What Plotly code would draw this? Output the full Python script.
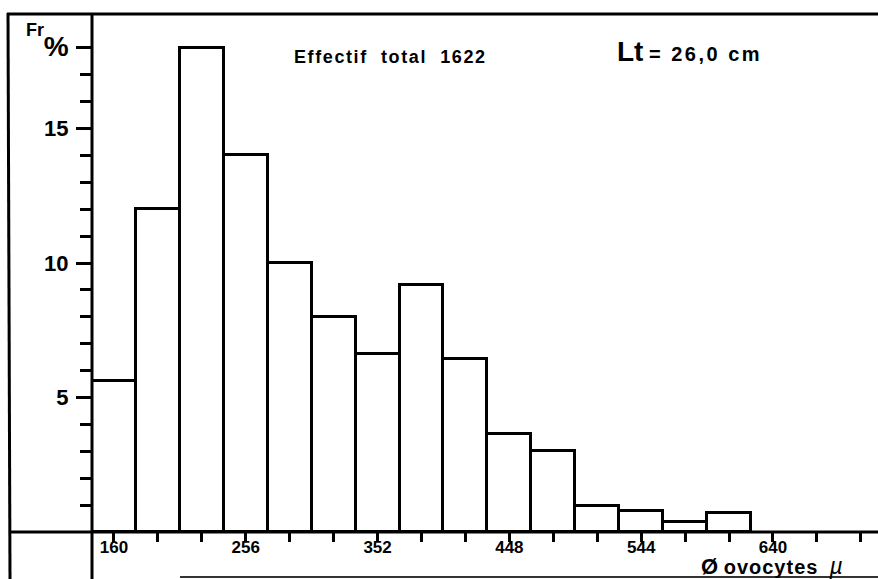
import plotly.graph_objects as go

# ---- data ----
bin_centers = [160, 192, 224, 256, 288, 320, 352, 384, 416, 448, 480, 512, 544, 576, 608]
freq_pct = [5.6, 12.0, 18.0, 14.0, 10.0, 8.0, 6.6, 9.2, 6.45, 3.65, 3.0, 0.95, 0.78, 0.38, 0.7]
bin_width = 32

x_tick_vals = [160, 256, 352, 448, 544, 640]
x_tick_text = ["160", "256", "352", "448", "544", "640"]
x_minor_vals = [192, 224, 288, 320, 384, 416, 480, 512, 576, 608, 672, 704]

y_tick_vals = [5, 10, 15, 18]
y_tick_text = ["5", "10", "15", "<span style='font-size:28px'>%</span>"]
y_minor_vals = [1, 2, 3, 4, 6, 7, 8, 9, 11, 12, 13, 14, 16, 17]

W, H = 878, 579
L, R, T, B = 92, 0, 14, 47
PW, PH = W - L - R, H - T - B


def px(x):
    return (x - L) / PW


def py(y):
    return (H - B - y) / PH


FONT = "Liberation Sans"

fig = go.Figure()
fig.add_trace(go.Bar(
    x=bin_centers, y=freq_pct, width=[bin_width] * len(bin_centers),
    marker=dict(color="white", line=dict(color="black", width=3)),
    hoverinfo="x+y", showlegend=False,
))

shapes = []
def seg(x0, y0, x1, y1, w=3, c="black"):
    shapes.append(dict(type="line", xref="paper", yref="paper",
                       x0=px(x0), y0=py(y0), x1=px(x1), y1=py(y1),
                       line=dict(color=c, width=w), layer="above"))

seg(7, 14, 878, 14, 3)          # top border
seg(8, 13, 10, 579, 3)          # left border
seg(92, 13, 92, 579, 3)         # y axis line (extended)
seg(10, 532, 878, 532, 3)       # x axis line (extended)
seg(180, 577, 878, 577, 2, "#333")  # bottom border

annotations = [
    dict(text="<b>Fr</b>", x=px(24), y=py(30), xanchor="left", yanchor="middle",
         font=dict(size=18, family=FONT, color="black")),
    dict(text="<b><span style='letter-spacing:1.6px'>Effectif  total  1622</span></b>",
         x=px(292), y=py(57), xanchor="left", yanchor="middle",
         font=dict(size=18, family=FONT, color="black")),
    dict(text="<b><span style='font-size:28px'>Lt</span> <span style='letter-spacing:2.5px'>= 26,0 cm</span></b>",
         x=px(615), y=py(52), xanchor="left", yanchor="middle",
         font=dict(size=20, family=FONT, color="black")),
    dict(text="<b><span style='font-size:22px'>Ø</span> <span style='letter-spacing:1px'>ovocytes</span></b>  <i><span style='font-size:23px'>µ</span></i>",
         x=px(699), y=py(566), xanchor="left", yanchor="middle",
         font=dict(size=20, family=FONT, color="black")),
]
for a in annotations:
    a.update(xref="paper", yref="paper", showarrow=False)

fig.update_layout(
    width=W, height=H,
    margin=dict(l=L, r=R, t=T, b=B),
    paper_bgcolor="white", plot_bgcolor="white",
    bargap=0,
    shapes=shapes, annotations=annotations,
    xaxis=dict(range=[144, 716.5], showgrid=False, zeroline=False, showline=False,
               tickmode="array", tickvals=x_tick_vals, ticktext=x_tick_text,
               ticks="outside", ticklen=9, tickwidth=2.5, tickcolor="black",
               ticklabelstandoff=-9,
               tickfont=dict(size=17, family=FONT, color="black", weight="bold"),
               minor=dict(tickmode="array", tickvals=x_minor_vals, ticks="outside",
                          ticklen=9, tickwidth=2.5, tickcolor="black")),
    yaxis=dict(range=[0, 19.26], showgrid=False, zeroline=False, showline=False,
               tickmode="array", tickvals=y_tick_vals, ticktext=y_tick_text,
               ticks="outside", ticklen=15, tickwidth=2.5, tickcolor="black",
               ticklabelstandoff=3,
               tickfont=dict(size=22, family=FONT, color="black", weight="bold"),
               minor=dict(tickmode="array", tickvals=y_minor_vals, ticks="outside",
                          ticklen=11, tickwidth=2.5, tickcolor="black")),
)

fig.write_html("out.html", config={"displayModeBar": False},
               post_script="document.body.style.margin='0';document.body.style.overflow='hidden';")
